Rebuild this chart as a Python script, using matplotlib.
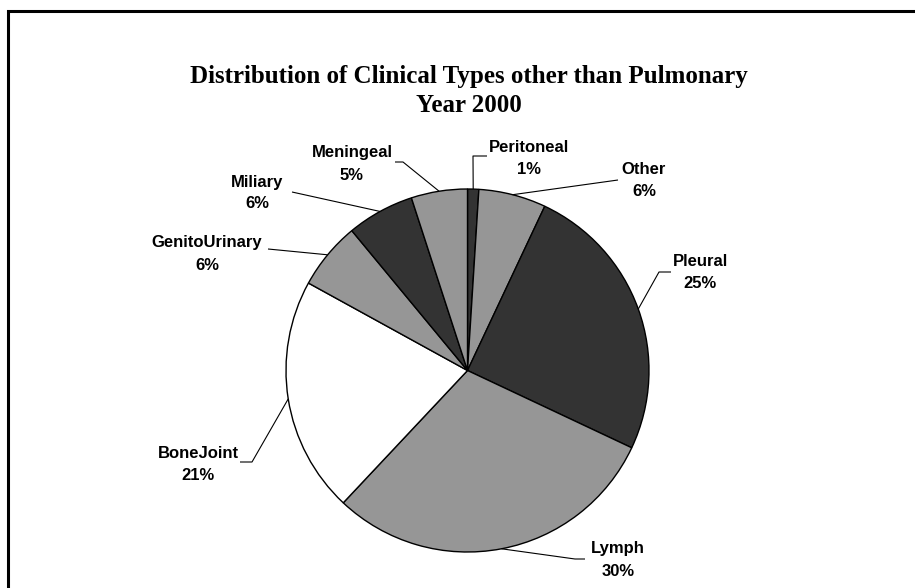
import numpy as np
import matplotlib
matplotlib.use("Agg")
import matplotlib.pyplot as plt
from matplotlib.patches import Rectangle

categories = ["Peritoneal", "Other", "Pleural", "Lymph", "BoneJoint",
              "GenitoUrinary", "Miliary", "Meningeal"]
values = [1, 6, 25, 30, 21, 6, 6, 5]
pct_labels = ["1%", "6%", "25%", "30%", "21%", "6%", "6%", "5%"]
colors = ["#333333", "#969696", "#333333", "#969696", "#ffffff",
          "#969696", "#333333", "#969696"]

W, H = 915, 588
fig = plt.figure(figsize=(W / 100, H / 100), dpi=100)
ax = fig.add_axes([0, 0, 1, 1])
ax.axis("off")

cx, cy, R = 467.5, H - 370.5, 181.5
wedges, _ = ax.pie(values, colors=colors, startangle=90, counterclock=False,
                   center=(cx, cy), radius=R,
                   wedgeprops=dict(edgecolor="black", linewidth=1.0))
ax.set_xlim(0, W)
ax.set_ylim(0, H)
ax.set_aspect("equal")

# label layout: (text center x, first-line center y (px from top), elbow x, elbow y, end x)
layout = {
    "Peritoneal":    (529, 147, 473, 156, 487),
    "Other":         (644, 170, 618, 180, 618),
    "Pleural":       (700, 262, 659, 272, 671),
    "Lymph":         (618, 549, 575, 559, 585),
    "BoneJoint":     (198, 453, 252, 462, 240),
    "GenitoUrinary": (207, 243, 268, 249, 268),
    "Miliary":       (257, 182, 292, 192, 292),
    "Meningeal":     (352, 153, 403, 162, 395),
}

for w, name, pct in zip(wedges, categories, pct_labels):
    tx, ty, ex, ey, hx = layout[name]
    mid = np.deg2rad((w.theta1 + w.theta2) / 2)
    px = cx + R * np.cos(mid)
    py = cy + R * np.sin(mid)
    ax.plot([px, ex, hx], [py, H - ey, H - ey], color="black", lw=0.8,
            solid_capstyle="butt", zorder=3)
    for k, s in enumerate([name, pct]):
        ax.text(tx, H - ty - 22 * k, s, ha="center", va="center",
                fontsize=12, fontweight="bold", family="Liberation Sans")

ax.text(469, H - 77, "Distribution of Clinical Types other than Pulmonary",
        ha="center", va="center", fontsize=18, fontweight="bold",
        family="Liberation Serif")
ax.text(469, H - 106, "Year 2000", ha="center", va="center", fontsize=18,
        fontweight="bold", family="Liberation Serif")

ax.add_patch(Rectangle((8, -30), 1000, H - 11 + 30, fill=False,
                       edgecolor="black", lw=2.2, clip_on=False))

fig.savefig("out.png", dpi=100)
